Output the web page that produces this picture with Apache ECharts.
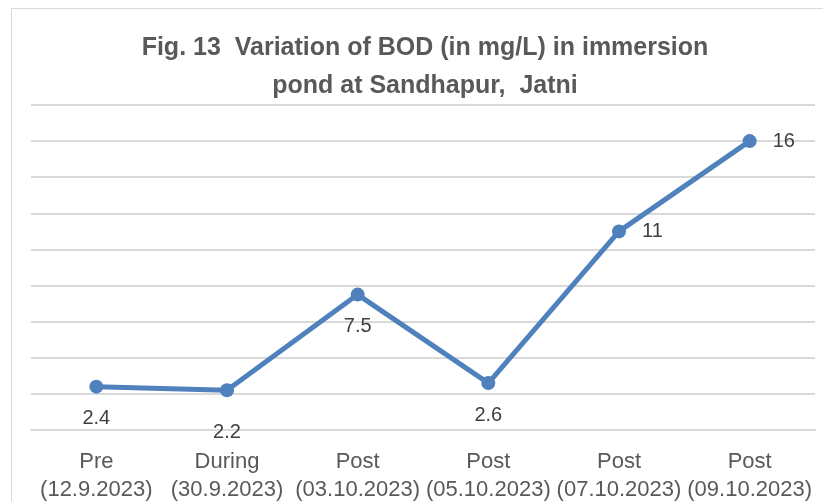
<!DOCTYPE html>
<html>
<head>
<meta charset="utf-8">
<script src="https://cdn.jsdelivr.net/npm/echarts@6/dist/echarts.min.js"></script>
<style>
  html, body { margin: 0; padding: 0; background: #fff; }
  #chart { width: 823px; height: 502px; }
</style>
</head>
<body>
<div id="chart"></div>
<script>
// 数据
const categories = [
    'Pre\n(12.9.2023)',
    'During\n(30.9.2023)',
    'Post\n(03.10.2023)',
    'Post\n(05.10.2023)',
    'Post\n(07.10.2023)',
    'Post\n(09.10.2023)',
]
const bodValues = [2.4, 2.2, 7.5, 2.6, 11, 16]
const labelPositions = ['bottom', 'bottom', 'bottom', 'bottom', 'right', 'right']

const chart = echarts.init(document.getElementById('chart'))

chart.setOption({
    animation: false,
    textStyle: { fontFamily: 'Liberation Sans' },
    graphic: [
        {
            type: 'rect',
            shape: { x: 11.5, y: 8.5, width: 830, height: 520 },
            style: { fill: 'none', stroke: '#d9d9d9', lineWidth: 1 },
            silent: true,
        },
    ],
    title: {
        text: 'Fig. 13  Variation of BOD (in mg/L) in immersion\npond at Sandhapur,  Jatni',
        left: 420,
        textAlign: 'center',
        top: 24,
        textStyle: {
            fontSize: 25,
            fontWeight: 'bold',
            color: '#595959',
            lineHeight: 38,
            fontFamily: 'Liberation Sans',
        },
    },
    grid: {
        left: 31,
        right: 8,
        top: 105,
        bottom: 72,
        outerBoundsMode: 'none',
    },
    xAxis: {
        type: 'category',
        data: categories,
        boundaryGap: true,
        axisLine: { lineStyle: { color: '#d9d9d9', width: 2 } },
        axisTick: { show: false },
        axisLabel: {
            fontSize: 22,
            color: '#595959',
            lineHeight: 28,
            margin: 18,
            interval: 0,
        },
    },
    yAxis: {
        type: 'value',
        min: 0,
        max: 18,
        interval: 2,
        axisLabel: { show: false },
        axisLine: { show: false },
        axisTick: { show: false },
        splitLine: { lineStyle: { color: '#d9d9d9', width: 2 } },
    },
    series: [
        {
            type: 'line',
            data: bodValues.map((v, i) => ({
                value: v,
                label: {
                    position: labelPositions[i],
                    distance: i === 1 ? 25 : (labelPositions[i] === 'right' ? 16 : 15),
                },
            })),
            symbol: 'circle',
            symbolSize: 14,
            lineStyle: { color: '#4f81bd', width: 5 },
            itemStyle: { color: '#4f81bd' },
            label: {
                show: true,
                fontSize: 20,
                color: '#404040',
            },
        },
    ],
})
</script>
</body>
</html>
